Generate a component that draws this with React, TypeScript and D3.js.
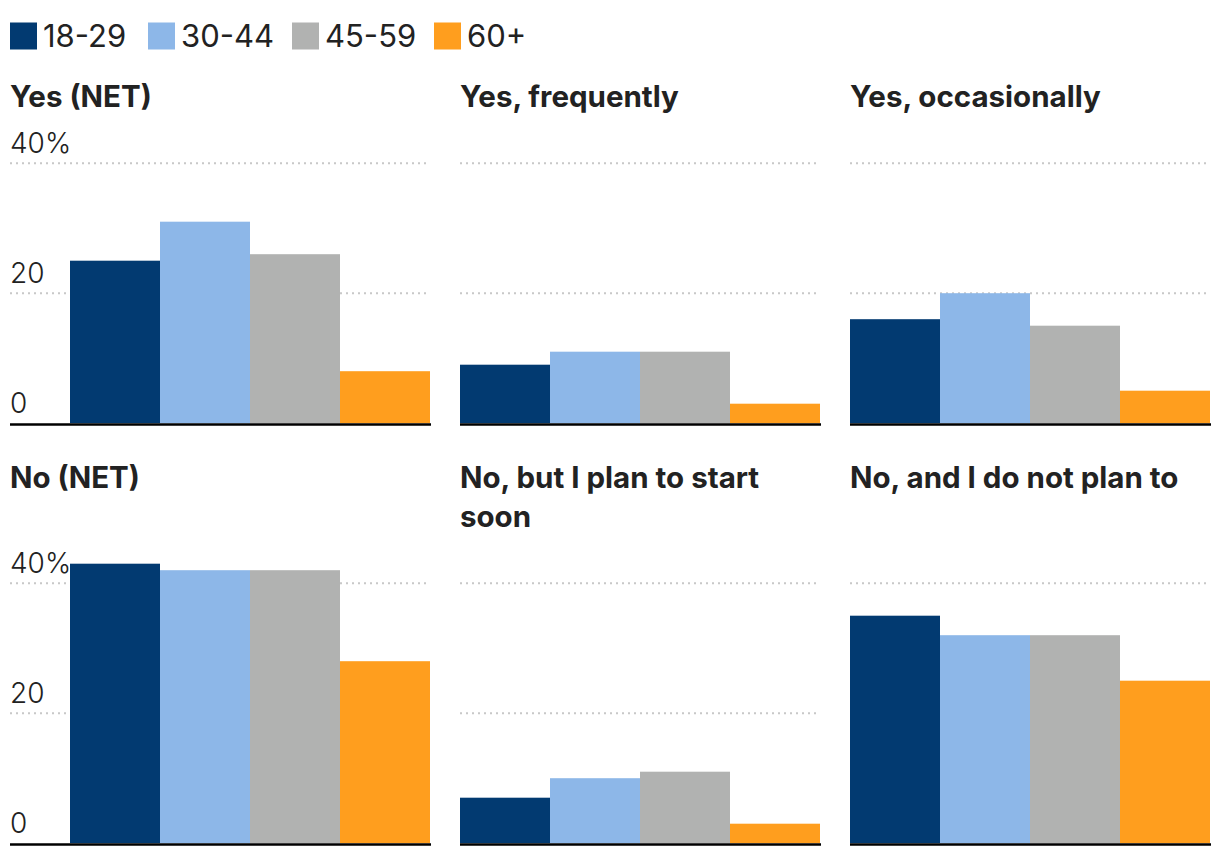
import React, { useEffect, useRef } from "react";
import * as d3 from "d3";

const ages = ["18-29", "30-44", "45-59", "60+"];
const colors = ["#023a71", "#8db7e8", "#b1b2b1", "#ff9e1e"];

const panelTitles = [
  "Yes (NET)",
  "Yes, frequently",
  "Yes, occasionally",
  "No (NET)",
  "No, but I plan to start soon",
  "No, and I do not plan to",
];

const yesNet = [25, 31, 26, 8];
const yesFrequently = [9, 11, 11, 3];
const yesOccasionally = [16, 20, 15, 5];
const noNet = [43, 42, 42, 28];
const noPlanSoon = [7, 10, 11, 3];
const noNotPlan = [35, 32, 32, 25];

const panelValues = [yesNet, yesFrequently, yesOccasionally, noNet, noPlanSoon, noNotPlan];

const yTicks = [0, 20, 40];

const W = 1220;
const H = 856;
const FONT = "Inter, 'Noto Sans', sans-serif";

const App: React.FC = () => {
  const svgRef = useRef<SVGSVGElement>(null);

  useEffect(() => {
    if (!svgRef.current) return;
    const svg = d3.select(svgRef.current);
    svg.selectAll("*").remove();

    // legend
    const legend = svg.append("g").attr("font-family", FONT);
    const legendX = [10, 148, 292, 434];
    ages.forEach((a, i) => {
      legend.append("rect")
        .attr("x", legendX[i]).attr("y", 22.5)
        .attr("width", 27).attr("height", 27)
        .attr("fill", colors[i]);
      legend.append("text")
        .attr("x", legendX[i] + 33).attr("y", 46.7)
        .attr("font-size", 31).attr("fill", "#222")
        .text(a);
    });

    // columns: [left of panel, left of bars, right]
    const cols = [
      { left: 10, plotLeft: 70, right: 430 },
      { left: 460, plotLeft: 460, right: 820 },
      { left: 850, plotLeft: 850, right: 1210 },
    ];

    const lineH = 38.5;
    const titleToGrid = 56.5;
    const plotH = 260;
    let titleBase = 106.7;

    for (let row = 0; row < 2; row++) {
      // titles first, so the row height follows the tallest title
      let maxLines = 1;
      for (let c = 0; c < 3; c++) {
        const idx = row * 3 + c;
        const col = cols[c];
        const t = svg.append("text")
          .attr("font-family", FONT)
          .attr("font-size", 29.5)
          .attr("font-weight", 700)
          .attr("fill", "#222")
          .attr("y", titleBase);
        const words = panelTitles[idx].split(" ");
        let line: string[] = [];
        let tspan = t.append("tspan").attr("x", col.left).attr("dy", 0);
        let n = 1;
        for (const w of words) {
          line.push(w);
          tspan.text(line.join(" "));
          if ((tspan.node() as SVGTSpanElement).getComputedTextLength() > col.right - col.left && line.length > 1) {
            line.pop();
            tspan.text(line.join(" "));
            line = [w];
            tspan = t.append("tspan").attr("x", col.left).attr("dy", lineH).text(w);
            n++;
          }
        }
        maxLines = Math.max(maxLines, n);
      }

      const gridTop = titleBase + (maxLines - 1) * lineH + titleToGrid;
      const base = gridTop + plotH;
      const y = d3.scaleLinear().domain([0, 40]).range([base, gridTop]);

      for (let c = 0; c < 3; c++) {
        const idx = row * 3 + c;
        const col = cols[c];
        const g = svg.append("g");

        // gridlines
        g.selectAll("line.grid")
          .data(yTicks.filter((d) => d > 0))
          .join("line")
          .attr("x1", col.left).attr("x2", col.right - 2)
          .attr("y1", (d) => y(d)).attr("y2", (d) => y(d))
          .attr("stroke", "#c8c8c8")
          .attr("stroke-width", 2)
          .attr("stroke-dasharray", "2,4");

        if (c === 0) {
          g.selectAll("text.tick")
            .data(yTicks)
            .join("text")
            .attr("x", col.left)
            .attr("y", (d) => y(d) - 10)
            .attr("font-family", FONT)
            .attr("font-size", 28)
            .attr("font-weight", 300)
            .attr("fill", "#222")
            .text((d) => (d === 40 ? "40%" : String(d)));
        }

        const x = d3.scaleBand<string>()
          .domain(ages)
          .range([col.plotLeft, col.right])
          .padding(0);

        g.selectAll("rect.bar")
          .data(panelValues[idx])
          .join("rect")
          .attr("x", (_, i) => x(ages[i])!)
          .attr("width", x.bandwidth())
          .attr("y", (d) => y(d))
          .attr("height", (d) => base - y(d))
          .attr("fill", (_, i) => colors[i]);

        g.append("line")
          .attr("x1", col.left).attr("x2", col.right + 1)
          .attr("y1", base + 1.3).attr("y2", base + 1.3)
          .attr("stroke", "#000")
          .attr("stroke-width", 2.6);
      }

      titleBase = base + 65;
    }
  }, []);

  return (
    <svg
      ref={svgRef}
      width={W}
      height={H}
      viewBox={`0 0 ${W} ${H}`}
      style={{ position: "absolute", left: 0, top: 0, background: "#fff" }}
    />
  );
};

export default App;
